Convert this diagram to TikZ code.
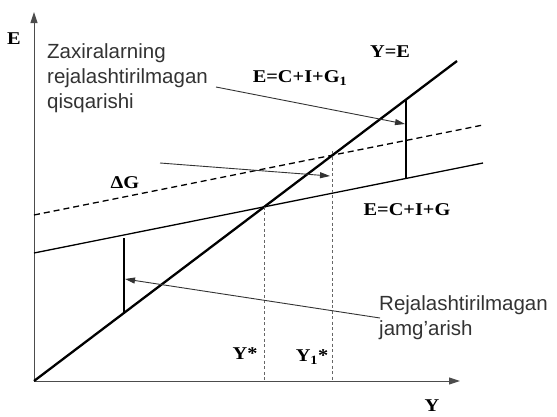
\documentclass[tikz,border=0pt]{standalone}
\usepackage{fontspec}
\setmainfont{Liberation Serif}
\setsansfont{Liberation Sans}
\newfontfamily\labfont{Liberation Serif}[FakeStretch=1.13]
\usetikzlibrary{arrows.meta,intersections}
\begin{document}
\begin{tikzpicture}[x=1pt,y=-1pt,
  axis/.style={line width=1pt,draw=black!70},
  axtip/.style={-{Triangle[length=11pt,width=7pt]}},
  yeline/.style={line width=2.3pt},
  cigline/.style={line width=1.3pt},
  dashline/.style={line width=1.3pt,dash pattern=on 6pt off 4pt},
  dropline/.style={line width=0.9pt,draw=black!60,dash pattern=on 3pt off 2.5pt},
  bar/.style={line width=1.5pt},
  ptr/.style={line width=0.9pt,draw=black!80,-{Triangle[length=10pt,width=6pt]}},
  lab/.style={font=\labfont\fontsize{18}{22}\selectfont\bfseries,inner sep=0pt},
  note/.style={font=\sffamily\fontsize{20.5}{25}\selectfont,text=black!80,align=left,inner sep=0pt}]
\useasboundingbox (0,0) rectangle (557,416);
% axes
\coordinate (O) at (34,381);
\coordinate (Ytop) at (34,12);
\coordinate (Xtip) at (460,381);
\draw[axis,axtip] (O) -- (Ytop);
\draw[axis,axtip] (O) -- (Xtip);
% lines
\coordinate (YE2) at (457,61);
\coordinate (G1) at (34,253);
\coordinate (G2) at (483,163);
\coordinate (D1) at (34,215);
\coordinate (D2) at (483,125);
\draw[yeline,name path=ye] (O) -- (YE2);
\draw[cigline,name path=cig] (G1) -- (G2);
\draw[dashline,name path=cig1] (D1) -- (D2);
\path[name intersections={of=ye and cig,by=A}];
\path[name intersections={of=ye and cig1,by=B}];
\draw[dropline] (A) -- (A |- O);
\draw[dropline] ([yshift=4pt]B) -- (B |- O);
% vertical bars
\coordinate (R1) at (406,99.6);
\coordinate (R2) at (406,178.4);
\draw[bar] (R1) -- (R2);
\coordinate (L1) at (124,238);
\coordinate (L2) at (124,312.9);
\draw[bar] (L1) -- (L2);
% labels
\node[lab] (lE) at (14,39) {E};
\node[lab] (lY) at (432,406) {Y};
\node[lab] (lYE) at (390,52) {Y=E};
\node[lab] (lG1) at (300,78) {E=C+I+G\textsubscript{1}};
\node[lab] (lG) at (407,210) {E=C+I+G};
\node[lab] (lDG) at (125,183) {ΔG};
\node[lab] (lYs) at (245,354) {Y*};
\node[lab] (lY1s) at (312,357) {Y\textsubscript{1}*};
% notes
\node[note,anchor=west] (n1) at (47,78) {Zaxiralarning\\rejalashtirilmagan\\qisqarishi};
\node[note,anchor=west] (n2) at (379,318) {Rejalashtirilmagan\\jamg'arish};
% pointers
\coordinate (p1s) at (216,87);
\coordinate (p1e) at (405,124);
\draw[ptr] (p1s) -- (p1e);
\coordinate (p2s) at (160,163);
\coordinate (p2e) at (330,176);
\draw[ptr] (p2s) -- (p2e);
\coordinate (p3s) at (380,318);
\coordinate (p3e) at (125,279);
\draw[ptr] (p3s) -- (p3e);
\end{tikzpicture}
\end{document}
